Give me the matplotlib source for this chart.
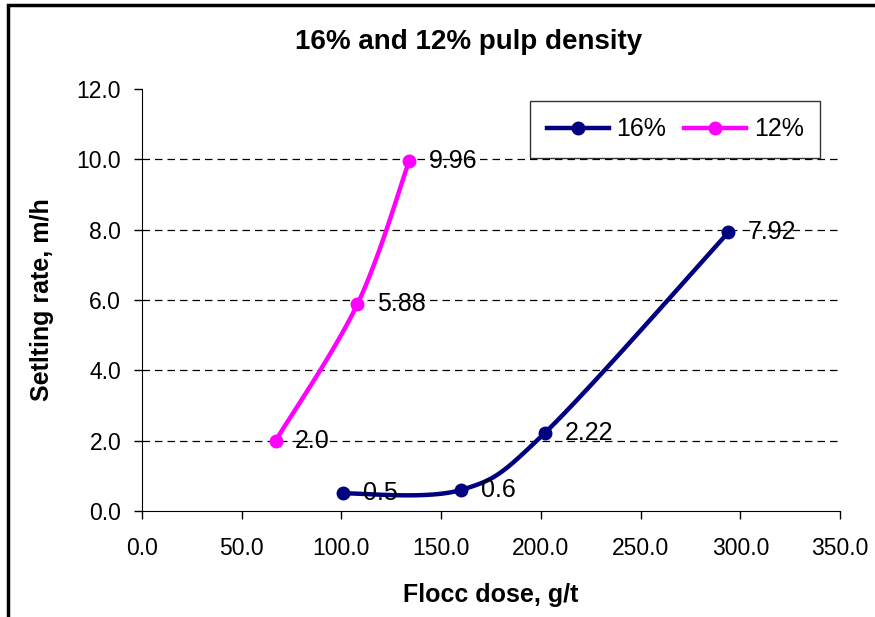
import numpy as np
import matplotlib.pyplot as plt
from matplotlib.patches import Rectangle

plt.rcParams['font.family'] = ['Liberation Sans', 'DejaVu Sans']

# data
dose_16 = [101, 160, 202, 294]
rate_16 = [0.5, 0.6, 2.22, 7.92]
labels_16 = ['0.5', '0.6', '2.22', '7.92']

dose_12 = [67, 108, 134]
rate_12 = [2.0, 5.88, 9.96]
labels_12 = ['2.0', '5.88', '9.96']

x_ticks = [0, 50, 100, 150, 200, 250, 300, 350]
y_ticks = [0, 2, 4, 6, 8, 10, 12]


def smooth(xs, ys, n=30):
    # Excel-like smoothed line (cardinal spline through the points)
    xs = np.asarray(xs, float)
    ys = np.asarray(ys, float)
    px = np.concatenate([[xs[0]], xs, [xs[-1]]])
    py = np.concatenate([[ys[0]], ys, [ys[-1]]])
    outx, outy = [], []
    for i in range(1, len(px) - 2):
        p0 = np.array([px[i], py[i]])
        p1 = np.array([px[i + 1], py[i + 1]])
        c1 = p0 + (p1 - np.array([px[i - 1], py[i - 1]])) / 6
        c2 = p1 - (np.array([px[i + 2], py[i + 2]]) - p0) / 6
        t = np.linspace(0, 1, n)[:, None]
        b = ((1 - t) ** 3) * p0 + 3 * ((1 - t) ** 2) * t * c1 + 3 * (1 - t) * t ** 2 * c2 + t ** 3 * p1
        outx.extend(b[:, 0])
        outy.extend(b[:, 1])
    return outx, outy


fig = plt.figure(figsize=(8.75, 6.17), dpi=100)
ax = fig.add_axes([142 / 875, 1 - 511 / 617, (840 - 142) / 875, (511 - 89) / 617])

navy = '#000080'
pink = '#FF00FF'

sx, sy = smooth(dose_16, rate_16)
ax.plot(sx, sy, color=navy, lw=3.2, zorder=3)
ax.plot(dose_16, rate_16, 'o', color=navy, ms=9, zorder=4)
sx, sy = smooth(dose_12, rate_12)
ax.plot(sx, sy, color=pink, lw=3.2, zorder=3)
ax.plot(dose_12, rate_12, 'o', color=pink, ms=9, zorder=4)

for x, y, s in zip(dose_16, rate_16, labels_16):
    ax.annotate(s, (x, y), xytext=(14, 0), textcoords='offset points',
                va='center', ha='left', fontsize=18)
for x, y, s in zip(dose_12, rate_12, labels_12):
    ax.annotate(s, (x, y), xytext=(14, 0), textcoords='offset points',
                va='center', ha='left', fontsize=18)

# legend proxies
ax.plot([], [], '-o', color=navy, lw=3.2, ms=9, label='16%')
ax.plot([], [], '-o', color=pink, lw=3.2, ms=9, label='12%')
handles, lbls = ax.get_legend_handles_labels()
leg = ax.legend(handles[-2:], lbls[-2:], ncol=2, loc='upper right',
                bbox_to_anchor=(1 - 20 / 698, 1 - 12 / 422), fontsize=18,
                frameon=True, fancybox=False, edgecolor='black',
                handlelength=2.5, handletextpad=0.3, columnspacing=0.7,
                borderpad=0.65, borderaxespad=0)
leg.get_frame().set_linewidth(1)

ax.set_xlim(0, 350)
ax.set_ylim(0, 12)
ax.set_xticks(x_ticks)
ax.set_yticks(y_ticks)
ax.set_xticklabels([f'{v:.1f}' for v in x_ticks])
ax.set_yticklabels([f'{v:.1f}' for v in y_ticks])
ax.tick_params(labelsize=16.5, direction='out', length=6, width=1, pad=9)
ax.tick_params(axis='x', pad=13)
for v in y_ticks[1:-1]:
    ax.axhline(v, color='black', lw=0.9, ls=(0, (6, 4)), zorder=1)

ax.spines['top'].set_visible(False)
ax.spines['right'].set_visible(False)

ax.set_xlabel('Flocc dose, g/t', fontsize=18, fontweight='bold', labelpad=16)
ax.set_ylabel('Setlting rate, m/h', fontsize=18, fontweight='bold', labelpad=16)
fig.text(0.536, 1 - 42 / 617, '16% and 12% pulp density', ha='center', va='center',
         fontsize=20, fontweight='bold')

# chart border
fig.patches.append(Rectangle((8 / 875, -0.05), 1.2, 1 - 5 / 617 + 0.05,
                             transform=fig.transFigure, fill=False,
                             edgecolor='black', lw=2.5))

fig.savefig('out.png', dpi=100)
